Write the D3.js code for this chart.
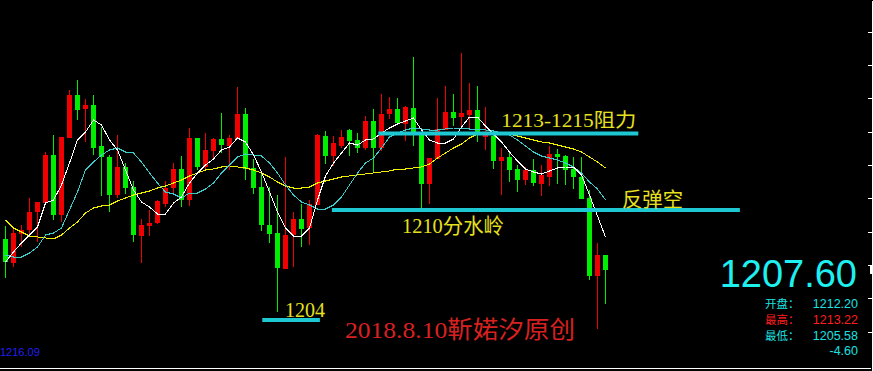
<!DOCTYPE html>
<html>
<head>
<meta charset="utf-8">
<script src="https://cdn.jsdelivr.net/npm/d3@7"></script>
<style>
  html, body { margin: 0; padding: 0; background: #000; }
  svg { display: block; }
</style>
</head>
<body>
<svg id="chart" width="873" height="371"></svg>
<script>
// candle data (one bar per period)
const opens = [
  1208.55,1207.35,1208.80,1209.00,1209.90,1210.35,1212.75,1209.75,1213.60,1215.75,
  1215.05,1215.25,1213.20,1212.65,1210.75,1212.15,1211.15,1208.70,1209.20,1209.35,
  1210.30,1211.10,1212.05,1210.50,1213.60,1212.15,1212.95,1213.55,1213.20,1213.55,
  1214.80,1212.10,1211.15,1209.25,1208.85,1207.05,1208.75,1209.55,1209.10,1210.25,
  1213.70,1212.70,1213.20,1214.00,1213.50,1213.10,1214.45,1213.10,1214.80,1215.05,
  1214.30,1215.10,1213.80,1211.30,1212.55,1214.00,1214.90,1214.65,1214.75,1215.00,
  1213.65,1213.70,1212.45,1212.65,1212.05,1211.50,1212.00,1211.30,1211.65,1212.80,
  1212.70,1212.05,1211.65,1210.60,1206.70,1207.75
];
const highs = [
  1209.20,1209.10,1209.25,1210.60,1210.40,1212.90,1213.75,1213.65,1216.00,1216.50,
  1215.55,1215.75,1214.15,1212.75,1213.75,1212.35,1211.45,1209.55,1210.00,1210.50,
  1211.45,1212.35,1212.70,1214.10,1213.60,1213.85,1213.60,1214.85,1213.75,1216.15,
  1215.10,1212.55,1211.90,1211.15,1210.75,1212.65,1209.90,1210.30,1210.50,1213.80,
  1213.95,1213.70,1214.00,1214.05,1213.85,1214.70,1215.05,1215.80,1215.65,1215.60,
  1215.20,1217.65,1213.80,1212.60,1215.60,1216.20,1215.80,1217.85,1216.35,1216.20,
  1215.15,1213.75,1213.10,1212.90,1212.25,1212.15,1212.55,1212.25,1213.20,1213.05,
  1212.75,1212.65,1212.65,1211.00,1208.35,1207.75
];
const lows = [
  1206.60,1207.15,1208.15,1208.65,1208.40,1210.35,1209.50,1209.40,1213.60,1214.50,
  1213.40,1212.75,1210.70,1209.90,1210.60,1210.80,1208.40,1207.35,1208.70,1209.30,
  1210.15,1210.85,1210.15,1210.20,1212.00,1212.05,1212.60,1212.85,1212.00,1213.55,
  1211.50,1210.80,1208.95,1208.35,1204.90,1207.05,1207.15,1208.15,1208.25,1210.25,
  1212.30,1212.20,1213.10,1212.70,1212.85,1213.00,1211.85,1212.95,1214.55,1214.25,
  1213.45,1213.20,1210.05,1210.30,1212.55,1214.00,1214.20,1214.10,1214.10,1213.40,
  1213.00,1212.05,1210.75,1211.40,1210.90,1211.25,1211.20,1210.70,1211.20,1211.30,
  1211.25,1211.05,1210.55,1206.50,1204.05,1205.30
];
const closes = [
  1207.40,1208.85,1209.00,1209.90,1210.40,1212.75,1209.75,1213.65,1215.75,1215.00,
  1215.25,1213.10,1212.65,1210.75,1212.15,1211.10,1208.75,1209.25,1209.35,1210.45,
  1211.10,1212.05,1210.50,1213.60,1212.15,1213.00,1213.55,1213.25,1213.60,1214.80,
  1212.05,1211.10,1209.25,1208.80,1207.10,1208.75,1209.55,1209.05,1210.30,1213.75,
  1212.70,1213.35,1213.65,1213.45,1213.10,1214.45,1213.10,1214.80,1215.05,1214.35,
  1215.15,1213.85,1211.30,1212.60,1214.05,1214.90,1214.60,1214.85,1215.00,1213.80,
  1213.75,1212.45,1212.65,1212.00,1211.50,1212.00,1211.35,1211.75,1212.80,1212.65,
  1212.00,1211.65,1210.55,1206.70,1207.75,1207.00
];

// moving average lines as drawn in the picture
const maWhite = [
  1207.40,1207.90,1208.35,1208.75,1209.15,1210.35,1210.50,1211.25,1212.35,1213.50,
  1213.90,1214.50,1214.25,1213.50,1213.00,1212.00,1211.00,1210.40,1210.15,1209.80,
  1209.80,1210.35,1210.65,1211.35,1211.85,1212.25,1212.55,1213.00,1213.15,1213.60,
  1213.40,1212.75,1211.90,1210.90,1209.90,1209.10,1208.70,1208.70,1209.10,1210.50,
  1211.70,1212.35,1212.85,1213.35,1213.25,1213.50,1213.55,1213.85,1214.10,1214.30,
  1214.45,1214.60,1214.00,1213.50,1213.35,1213.35,1213.55,1214.15,1214.65,1214.65,
  1214.20,1213.80,1213.40,1212.90,1212.45,1212.05,1211.90,1211.80,1211.95,1212.10,
  1212.15,1212.15,1211.75,1210.75,1209.70,1208.65
];
const maCyan = [
  1207.75,1207.65,1207.65,1207.85,1208.15,1208.75,1208.85,1209.10,1210.00,1210.90,
  1212.00,1212.40,1212.75,1213.00,1213.10,1212.90,1212.85,1212.40,1211.85,1211.35,
  1210.90,1210.80,1210.60,1210.85,1210.85,1211.05,1211.35,1211.85,1212.25,1212.65,
  1212.80,1212.75,1212.70,1212.35,1211.85,1211.25,1210.75,1210.40,1210.25,1210.05,
  1210.05,1210.25,1210.65,1211.25,1211.85,1212.35,1212.60,1213.10,1213.65,1213.85,
  1214.00,1214.10,1214.05,1214.00,1214.00,1214.05,1214.10,1214.10,1214.05,1214.05,
  1214.00,1213.95,1213.85,1213.75,1213.50,1213.20,1212.90,1212.70,1212.60,1212.50,
  1212.35,1212.15,1211.85,1211.40,1211.05,1210.50
];
const maYellow = [
  1209.50,1209.10,1208.90,1208.70,1208.65,1208.60,1208.55,1208.75,1209.10,1209.40,
  1209.85,1210.10,1210.20,1210.25,1210.45,1210.60,1210.75,1210.85,1210.95,1211.10,
  1211.20,1211.35,1211.50,1211.70,1211.85,1212.00,1212.05,1212.15,1212.20,1212.15,
  1212.10,1212.00,1211.85,1211.65,1211.40,1211.20,1211.10,1211.10,1211.15,1211.35,
  1211.45,1211.55,1211.65,1211.70,1211.75,1211.80,1211.85,1211.90,1211.95,1212.05,
  1212.05,1212.10,1212.15,1212.30,1212.60,1212.85,1213.10,1213.30,1213.60,1213.80,
  1213.85,1213.90,1213.85,1213.80,1213.70,1213.60,1213.50,1213.40,1213.35,1213.25,
  1213.15,1213.05,1212.90,1212.65,1212.40,1212.10
];

// hand-drawn levels: price, from bar, to bar
const levelPrices = [1213.83, 1210.0, 1204.5];
const levelFrom = [46.6, 40.8, 32.1];
const levelTo = [79.1, 91.8, 39.3];

// quote panel
const lastPrice = '1207.60';
const quoteLabels = ['开盘：', '最高：', '最低：'];
const quoteValues = ['1212.20', '1213.22', '1205.58'];
const changeText = '-4.60';
const cursorText = '1216.09';
const axisTicks = [1218.9, 1217.25, 1215.6, 1213.9, 1212.25, 1210.6, 1208.9, 1207.25, 1205.6, 1203.9];

const RED = '#f00000';
const GREEN = '#00ee00';
const CYAN_LEVEL = '#1ec8d2';
const YELLOW_TEXT = '#e6e01e';
const serif = "'Liberation Serif','Noto Sans CJK SC',serif";
const sans = "'Liberation Sans',Arial,sans-serif";

const svg = d3.select('#chart');

const x = d3.scaleLinear().domain([0, closes.length - 1]).range([5.5, 605.5]);
const y = d3.scaleLinear().domain([1202, 1220.5]).range([370, 0]);

const candles = closes.map((c, i) => ({ i, o: opens[i], h: highs[i], l: lows[i], c }));
const colorOf = d => d.c >= d.o ? RED : GREEN;

// wicks
svg.append('g')
    .selectAll('rect')
    .data(candles)
    .join('rect')
    .attr('x', d => x(d.i) - 0.5)
    .attr('width', 1)
    .attr('y', d => y(d.h))
    .attr('height', d => Math.max(1, y(d.l) - y(d.h)))
    .attr('fill', colorOf);

// bodies
svg.append('g')
    .selectAll('rect')
    .data(candles)
    .join('rect')
    .attr('x', d => x(d.i) - 2.5)
    .attr('width', 5)
    .attr('y', d => y(Math.max(d.o, d.c)))
    .attr('height', d => Math.max(1, Math.abs(y(d.o) - y(d.c))))
    .attr('fill', colorOf);

// moving averages
const line = d3.line().x((d, i) => x(i)).y(d => y(d));
[[maYellow, '#f0f000'], [maCyan, '#3ccccc'], [maWhite, '#ffffff']].forEach(([vals, col]) => {
    svg.append('path')
        .datum(vals)
        .attr('d', line)
        .attr('fill', 'none')
        .attr('stroke', col)
        .attr('stroke-width', 1)
        .attr('shape-rendering', 'crispEdges');
});

// level lines
svg.append('g')
    .selectAll('line')
    .data(levelPrices)
    .join('line')
    .attr('x1', (d, i) => x(levelFrom[i]))
    .attr('x2', (d, i) => x(levelTo[i]))
    .attr('y1', d => y(d))
    .attr('y2', d => y(d))
    .attr('stroke', CYAN_LEVEL)
    .attr('stroke-width', 4);

// annotations
const note = (txt, tx, ty, size, len, col) => svg.append('text')
    .attr('x', tx).attr('y', ty)
    .attr('textLength', len).attr('lengthAdjust', 'spacingAndGlyphs')
    .style('font-family', serif)
    .style('font-size', size + 'px')
    .attr('fill', col)
    .text(txt);

note('1213-1215阻力', x(levelFrom[0]) + 123, y(levelPrices[0]) - 6, 19, 135, YELLOW_TEXT);
note('反弹空', 622, y(levelPrices[1]) - 3, 20, 61, YELLOW_TEXT);
note('1210分水岭', 402, y(levelPrices[1]) + 23, 21, 102, YELLOW_TEXT);
note('1204', 285, y(levelPrices[2]) - 3, 20, 40, YELLOW_TEXT);
note('2018.8.10靳婼汐原创', 345, 338, 24, 230, '#d82020');

// right price axis
svg.append('g')
    .attr('transform', 'translate(871.5,0)')
    .call(d3.axisLeft(y).tickValues(axisTicks).tickSize(4).tickSizeOuter(0).tickFormat(''))
    .call(g => g.selectAll('path,line').attr('stroke', '#ffffff').attr('shape-rendering', 'crispEdges'));

svg.append('rect')
    .attr('x', 870).attr('y', y(closes[closes.length - 1]) - 4)
    .attr('width', 3).attr('height', 8)
    .attr('fill', '#ffffff');

// bottom rule
svg.append('line')
    .attr('x1', 0).attr('x2', 871).attr('y1', 368.5).attr('y2', 368.5)
    .attr('stroke', '#ffffff').attr('stroke-width', 1);

// quote panel
svg.append('text')
    .attr('x', 857).attr('y', 287)
    .attr('text-anchor', 'end')
    .style('font-family', sans).style('font-size', '38px')
    .attr('fill', '#1ef0f0')
    .text(lastPrice);

const rowColors = ['#1ee0e0', '#ff1e1e', '#1ee0e0'];
quoteLabels.forEach((lab, i) => {
    svg.append('text')
        .attr('x', 765).attr('y', 308 + i * 16)
        .style('font-family', "'Noto Sans CJK SC',sans-serif").style('font-size', '11.5px')
        .attr('fill', rowColors[i])
        .text(lab);
    svg.append('text')
        .attr('x', 858).attr('y', 308 + i * 16)
        .attr('text-anchor', 'end')
        .style('font-family', sans).style('font-size', '12.5px')
        .attr('fill', rowColors[i])
        .text(quoteValues[i]);
});
svg.append('text')
    .attr('x', 858).attr('y', 355)
    .attr('text-anchor', 'end')
    .style('font-family', sans).style('font-size', '12.5px')
    .attr('fill', '#1ee0e0')
    .text(changeText);

svg.append('text')
    .attr('x', 0).attr('y', 356)
    .style('font-family', sans).style('font-size', '11px')
    .attr('fill', '#2020f0')
    .text(cursorText);
</script>
</body>
</html>
